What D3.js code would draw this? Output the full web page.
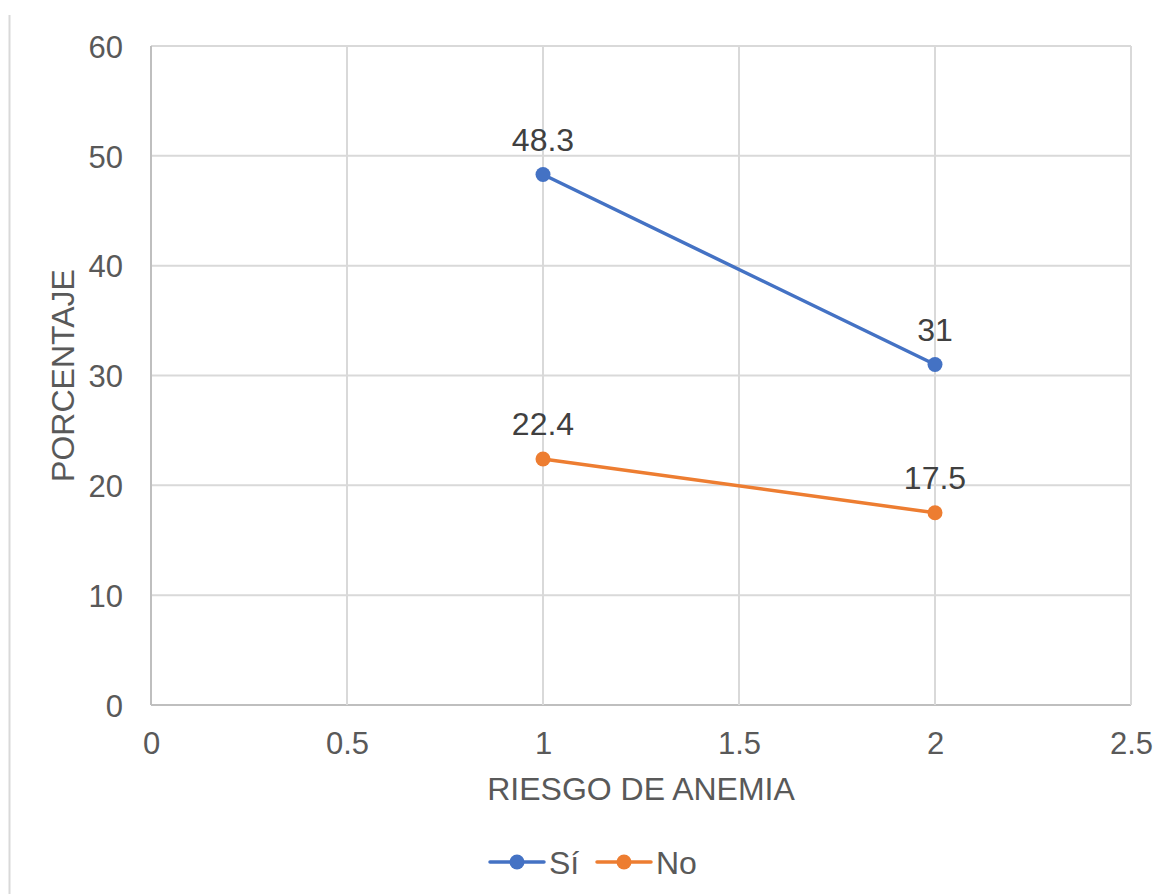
<!DOCTYPE html>
<html>
<head>
<meta charset="utf-8">
<script src="https://cdn.jsdelivr.net/npm/d3@7"></script>
<style>
  body { margin: 0; background: #fff; }
  text { font-family: "Liberation Sans", Arial, sans-serif; fill: #595959; }
</style>
</head>
<body>
<svg id="chart" width="1158" height="894"></svg>
<script>
// data
var xValues = [1, 2];
var siValues = [48.3, 31];
var noValues = [22.4, 17.5];
var seriesNames = ["Sí", "No"];
var seriesColors = ["#4472C4", "#ED7D31"];
var xTicks = [0, 0.5, 1, 1.5, 2, 2.5];
var yTicks = [0, 10, 20, 30, 40, 50, 60];

var width = 1158,
    height = 894,
    margin = {top: 46, right: 27, bottom: 189, left: 151};

var svg = d3.select("#chart");

// thin frame line on the left
svg.append("line")
    .attr("x1", 9.5).attr("x2", 9.5)
    .attr("y1", 15).attr("y2", height)
    .attr("stroke", "#d9d9d9")
    .attr("stroke-width", 2);

var x = d3.scaleLinear()
    .domain([0, 2.5])
    .range([margin.left, width - margin.right]);

var y = d3.scaleLinear()
    .domain([0, 60])
    .range([height - margin.bottom, margin.top]);

// gridlines
svg.append("g")
    .selectAll("line.h")
    .data(yTicks)
    .enter().append("line")
    .attr("x1", x(0)).attr("x2", x(2.5))
    .attr("y1", function (d) { return y(d); })
    .attr("y2", function (d) { return y(d); })
    .attr("stroke", function (d) { return d === 0 ? "#bfbfbf" : "#d9d9d9"; })
    .attr("stroke-width", 2);

svg.append("g")
    .selectAll("line.v")
    .data(xTicks)
    .enter().append("line")
    .attr("y1", y(0)).attr("y2", y(60))
    .attr("x1", function (d) { return x(d); })
    .attr("x2", function (d) { return x(d); })
    .attr("stroke", function (d) { return d === 0 ? "#bfbfbf" : "#d9d9d9"; })
    .attr("stroke-width", 2);

// axes (labels only, lines drawn above)
var yAxis = svg.append("g")
    .attr("transform", "translate(" + (margin.left - 28) + ",0)")
    .call(d3.axisLeft(y).tickValues(yTicks).tickSize(0).tickPadding(0));
yAxis.select(".domain").remove();
yAxis.selectAll("text")
    .attr("dy", "0.36em")
    .style("font-size", "31px")
    .style("font-family", "'Liberation Sans', Arial, sans-serif")
    .attr("fill", "#595959");

var xAxis = svg.append("g")
    .attr("transform", "translate(0," + (y(0) + 27) + ")")
    .call(d3.axisBottom(x).tickValues(xTicks).tickSize(0).tickPadding(0)
        .tickFormat(function (d) { return d3.format("")(d); }));
xAxis.select(".domain").remove();
xAxis.selectAll("text")
    .attr("dy", "0.72em")
    .style("font-size", "31px")
    .style("font-family", "'Liberation Sans', Arial, sans-serif")
    .attr("fill", "#595959");

// axis titles
svg.append("text")
    .attr("x", (x(0) + x(2.5)) / 2)
    .attr("y", 800)
    .attr("text-anchor", "middle")
    .style("font-size", "32px")
    .text("RIESGO DE ANEMIA");

svg.append("text")
    .attr("transform", "translate(74," + ((y(0) + y(60)) / 2) + ") rotate(-90)")
    .attr("text-anchor", "middle")
    .style("font-size", "32px")
    .text("PORCENTAJE");

// series
var series = [siValues, noValues].map(function (vals, i) {
    return {
        name: seriesNames[i],
        color: seriesColors[i],
        points: vals.map(function (v, j) { return {x: xValues[j], y: v}; })
    };
});

var line = d3.line()
    .x(function (d) { return x(d.x); })
    .y(function (d) { return y(d.y); });

series.forEach(function (s) {
    var g = svg.append("g");
    g.append("path")
        .datum(s.points)
        .attr("d", line)
        .attr("fill", "none")
        .attr("stroke", s.color)
        .attr("stroke-width", 3.5)
        .attr("stroke-linecap", "round");
    g.selectAll("circle")
        .data(s.points)
        .enter().append("circle")
        .attr("cx", function (d) { return x(d.x); })
        .attr("cy", function (d) { return y(d.y); })
        .attr("r", 7.5)
        .attr("fill", s.color);
    g.selectAll("text")
        .data(s.points)
        .enter().append("text")
        .attr("x", function (d) { return x(d.x); })
        .attr("y", function (d) { return y(d.y) - 24; })
        .attr("text-anchor", "middle")
        .style("font-size", "32px")
        .style("fill", "#404040")
        .text(function (d) { return d.y; });
});

// legend
var legend = svg.append("g")
    .attr("transform", "translate(490,862)");
var item = legend.selectAll("g")
    .data(series)
    .enter().append("g")
    .attr("transform", function (d, i) { return "translate(" + (i * 107) + ",0)"; });
item.append("line")
    .attr("x1", 0).attr("x2", 54)
    .attr("stroke", function (d) { return d.color; })
    .attr("stroke-width", 3.5)
    .attr("stroke-linecap", "round");
item.append("circle")
    .attr("cx", 27).attr("r", 7.5)
    .attr("fill", function (d) { return d.color; });
item.append("text")
    .attr("x", 59)
    .attr("dy", "0.36em")
    .style("font-size", "32px")
    .text(function (d) { return d.name; });
</script>
</body>
</html>
